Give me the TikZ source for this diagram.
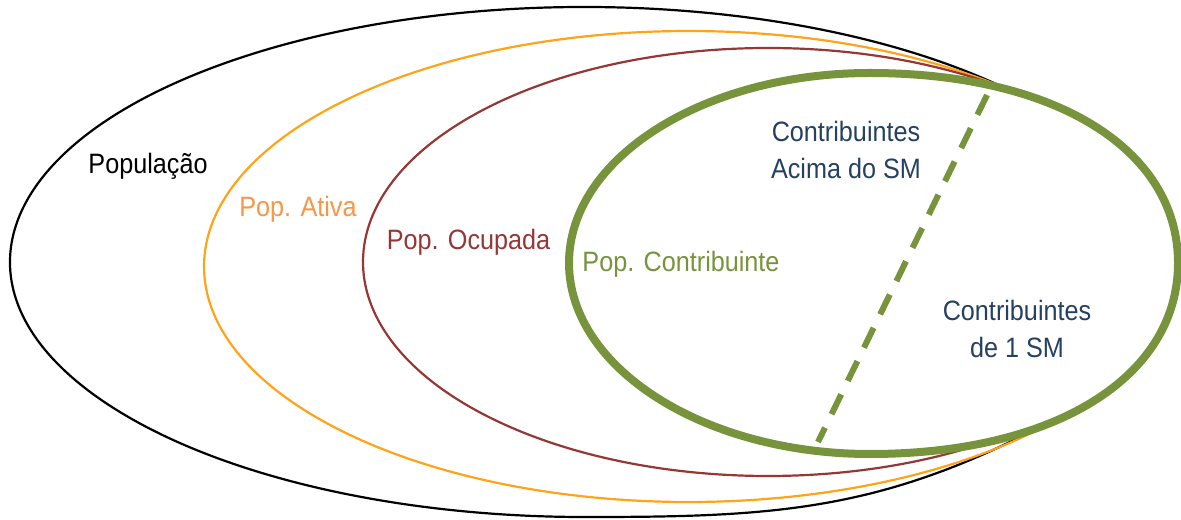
\documentclass[tikz,border=0pt]{standalone}
\usepackage{fontspec}
\setmainfont{Liberation Sans}[FakeStretch=0.9]
\definecolor{ativa}{RGB}{255,163,26}
\definecolor{ativatxt}{RGB}{247,150,70}
\definecolor{ocupada}{RGB}{149,55,53}
\definecolor{contrib}{RGB}{119,147,60}
\definecolor{smblue}{RGB}{37,64,97}
\begin{document}
\begin{tikzpicture}[x=.5pt, y=.5pt,
		lbl/.style={font=\fontsize{14}{18.5}\selectfont, inner sep=0pt, anchor=base, align=center}]
		\useasboundingbox (0,0) rectangle (1181,519);
		\coordinate (popend) at (1028,86);
		\draw[line width=1.1pt] (584.6,257) ++(38:574.6 and 255) arc[start angle=38, end angle=270, x radius=574.6, y radius=255] to[out=0, in=207] (popend);
		\draw[ativa, line width=1.1pt] (688.6,252.5) ++(45:484.6 and 235.5) arc[start angle=45, end angle=320, x radius=484.6, y radius=235.5];
		\draw[ocupada, line width=1.1pt] (768,257) ++(50:405 and 214) arc[start angle=50, end angle=307, x radius=405, y radius=214];
		\filldraw[contrib, fill=white, line width=4pt] (870,446) .. controls (1055,446) and (1178,370) .. (1178,256) .. controls (1178,142) and (1055,65) .. (870,65) .. controls (704,65) and (569,151) .. (569,256) .. controls (569,361) and (704,446) .. (870,446) -- cycle;
		\coordinate (d1) at (987,424);
		\coordinate (d2) at (818,77);
		\draw[contrib, line width=3pt, dash pattern=on 11pt off 7.5pt] (d1) -- (d2);
		\node[lbl] (pop) at (148,345) {População};
		\node[lbl, text=ativatxt] (ativa) at (298,302) {Pop. Ativa};
		\node[lbl, text=ocupada] (ocup) at (468.5,269) {Pop. Ocupada};
		\node[lbl, text=contrib] (contr) at (681,247) {Pop. Contribuinte};
		\node[lbl, text=smblue] (acima) at (846,340.7) {Contribuintes\\Acima do SM};
		\node[lbl, text=smblue] (umsm) at (1017,161) {Contribuintes\\de 1 SM};
	\end{tikzpicture}
\end{document}
